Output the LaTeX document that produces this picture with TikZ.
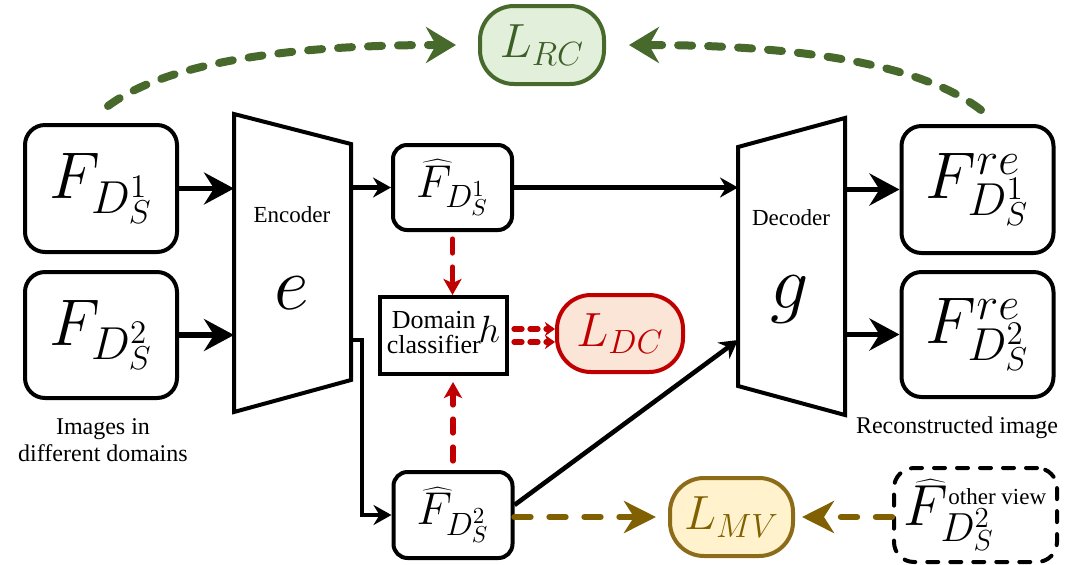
\RequirePackage{fix-cm}
\documentclass[tikz,border=0pt]{standalone}
\usepackage{fontspec}
\setmainfont{Liberation Serif}
\usetikzlibrary{arrows.meta,calc}
\definecolor{cgreen}{RGB}{71,105,44}
\definecolor{cgreenfill}{RGB}{226,239,218}
\definecolor{cgreentext}{RGB}{60,95,40}
\definecolor{cred}{RGB}{192,0,0}
\definecolor{credfill}{RGB}{251,229,214}
\definecolor{cgold}{RGB}{128,96,0}
\definecolor{cgoldline}{RGB}{140,108,25}
\definecolor{cgoldfill}{RGB}{255,242,204}
\tikzset{
  box/.style={draw, line width=2pt, rounded corners=10pt, inner sep=0pt, align=center},
  midbox/.style={box, rounded corners=7pt, minimum width=59.5pt, minimum height=42.5pt},
  bigbox/.style={box, minimum width=76pt, minimum height=63.5pt},
  loss/.style={draw, line width=2pt, rounded corners=17pt, inner sep=0pt, minimum width=62pt, minimum height=39pt},
  bigarr/.style={line width=2.6pt, -{Stealth[length=15pt,width=16pt,inset=5pt]}},
  smallarr/.style={line width=2.3pt, -{Stealth[length=9pt,width=10pt,inset=3pt]}},
  gdash/.style={draw=cgreen, line width=4pt, line cap=round, dash pattern=on 7pt off 8pt, -{Stealth[length=15pt,width=18pt,inset=5pt]}},
  rdash/.style={draw=cred, line width=2.6pt, line cap=round, dash pattern=on 7pt off 7pt, -{Stealth[length=8pt,width=9pt,inset=2pt]}},
  rdashb/.style={draw=cred, line width=2.6pt, line cap=round, dash pattern=on 4pt off 4pt, -{Stealth[length=5pt,width=7pt,inset=1.5pt]}},
  odash/.style={draw=cgold, line width=3.2pt, line cap=round, dash pattern=on 8pt off 9.5pt, -{Stealth[length=16pt,width=16pt,inset=5pt]}},
  lbl/.style={inner sep=0pt, align=center, font=\fontsize{12}{13.8}\selectfont},
}
\begin{document}
\begin{tikzpicture}[x=0.5pt,y=-0.5pt]
\useasboundingbox (0,0) rectangle (1084,564);

% encoder and decoder
\draw[line width=2pt, line join=miter] (234,114) -- (351,144) -- (351,380) -- (234,412) -- cycle;
\draw[line width=2pt, line join=miter] (738,147) -- (845,118) -- (845,415) -- (738,386) -- cycle;
\coordinate (encL) at (234,263);
\coordinate (encR) at (351,262);
\coordinate (decL) at (738,266);
\coordinate (decR) at (845,266);
\node[inner sep=0pt, font=\fontsize{11.5}{12}\selectfont] (etxt) at (292,215) {Encoder};
\node[inner sep=0pt, font=\fontsize{38}{38}\selectfont] (esym) at (292,293) {$e$};
\node[inner sep=0pt, font=\fontsize{11.5}{12}\selectfont] (dtxt) at (791,218) {Decoder};
\node[inner sep=0pt, font=\fontsize{38}{38}\selectfont] (gsym) at (790,300) {$g$};

% boxes
\node[bigbox] (fd1) at (101,188.5) {\fontsize{33}{33}\selectfont$F_{D_S^1}$};
\node[bigbox, minimum height=63pt] (fd2) at (101,335) {\fontsize{33}{33}\selectfont$F_{D_S^2}$};
\node[midbox] (fh1) at (452.5,187.5) {\fontsize{23}{23}\selectfont$\widehat{F}_{D_S^1}$};
\node[midbox, minimum height=43pt] (fh2) at (453,515) {\fontsize{23}{23}\selectfont$\widehat{F}_{D_S^2}$};
\node[draw, line width=2pt, inner sep=0pt, minimum width=63.5pt, minimum height=38.5pt] (dc) at (443.5,335.5)
  {\fontsize{13}{13.5}\selectfont\begin{tabular}{@{}c@{}}Domain\\[-1pt]classifier\end{tabular}\hspace{-1pt}{\fontsize{19}{19}\selectfont$h$}};
\node[bigbox] (fre1) at (977.5,189.5) {\fontsize{33}{33}\selectfont$F^{re}_{D_S^1}$};
\node[bigbox, minimum height=62.5pt] (fre2) at (977.5,334.5) {\fontsize{33}{33}\selectfont$F^{re}_{D_S^2}$};
\node[box, dashed, dash pattern=on 5.5pt off 6pt, line cap=round, rounded corners=10pt, minimum width=81.5pt, minimum height=47pt] (ov) at (975.5,515)
  {\fontsize{29}{29}\selectfont$\widehat{F}^{\mbox{\fontsize{11.5}{12}\selectfont other view}}_{D_S^2}$};

% losses
\node[loss, draw=cgreen, fill=cgreenfill, text=cgreentext] (lrc) at (542,45) {\fontsize{24}{24}\selectfont$L_{RC}$};
\node[loss, draw=cred, fill=credfill, text=cred, minimum width=63pt, minimum height=38.5pt] (ldc) at (620,333.5) {\fontsize{24}{24}\selectfont$L_{DC}$};
\node[loss, draw=cgoldline, fill=cgoldfill, text=cgold, minimum width=61.5pt] (lmv) at (731.5,517) {\fontsize{24}{24}\selectfont$L_{MV}$};

% labels
\node[lbl] (lab1) at (103,440) {Images in\\different domains};
\node[lbl] (lab2) at (957,428) {Reconstructed image};

% solid connectors
\draw[bigarr] (fd1) -- (fd1 -| encL);
\draw[bigarr] (fd2) -- (fd2 -| encL);
\draw[smallarr] (fh1 -| encR) -- (fh1);
\draw[smallarr] (fh1) -- (fh1 -| decL);
\draw[bigarr] (fre1 -| decR) -- (fre1);
\draw[bigarr] (fre2 -| decR) -- (fre2);
\coordinate (eo2) at (351,340);
\draw[smallarr] (eo2) -- ++(11,0) |- (fh2);
\coordinate (di2) at (738,340);
\draw[smallarr] ([yshift=5pt]fh2.east) -- (di2);

% red dashed
\draw[rdash, shorten <=3.5pt] (fh1.south) -- (fh1.south |- dc.north);
\draw[rdash, shorten <=4.5pt, shorten >=3pt] (fh2.north) -- (fh2.north |- dc.south);
\draw[rdashb, shorten <=2.5pt] ([yshift=3.25pt]dc.east) -- ([yshift=3.25pt]dc.east -| ldc.west);
\draw[rdashb, shorten <=2.5pt] ([yshift=-3.25pt]dc.east) -- ([yshift=-3.25pt]dc.east -| ldc.west);

% green dashed
\draw[gdash, shorten >=11pt] ($(fd1.north)+(7,-17)$) .. controls (170,60) and (300,45) .. (lrc.west);
\draw[gdash, shorten >=11.5pt] ($(fre1.north)+(3.5,-14)$) .. controls (919,62) and (790,45) .. (lrc.east);

% gold dashed
\draw[odash, shorten >=6pt] (fh2.east |- lmv) -- (lmv.west);
\draw[odash, shorten >=3.5pt] (ov.west |- lmv) -- (lmv.east);
\end{tikzpicture}
\end{document}
